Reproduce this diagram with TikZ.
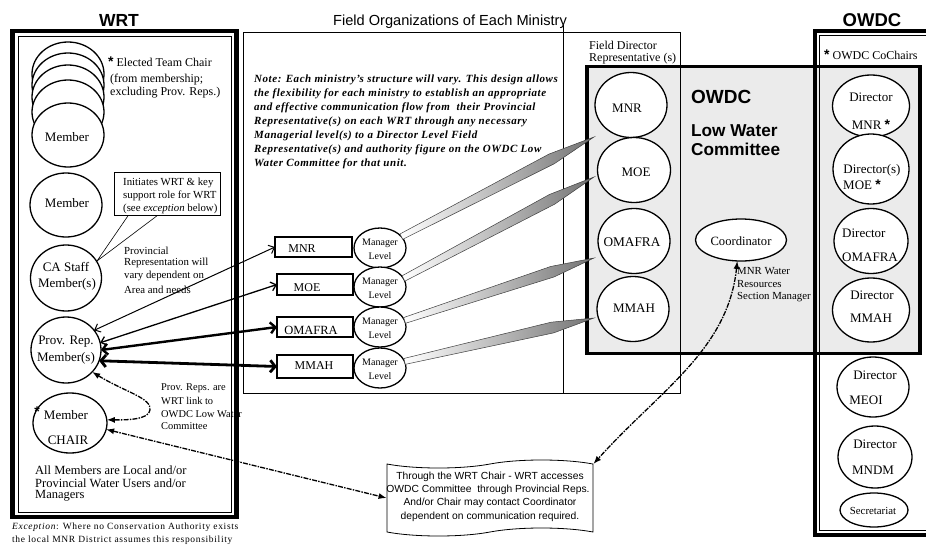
\documentclass[tikz,border=0pt]{standalone}
\usepackage{fontspec}
\setmainfont{Liberation Serif}
\setsansfont{Liberation Sans}
\usetikzlibrary{shapes.geometric,shapes.symbols,arrows.meta,calc}
\newcommand{\fz}[1]{\fontsize{#1}{#1}\selectfont}
\newcommand{\mystar}{{\sffamily\bfseries\fontsize{14}{14}\selectfont *}}
\newcommand{\wedgeto}[2]{%
  \coordinate (wm) at ($(#1)!0.78!(#2)$);
  \path[wedgefill] ($(#1)!3pt!90:(#2)$) -- ($(wm)!5.5pt!90:(#2)$) -- (#2)
     -- ($(wm)!5.5pt!-90:(#2)$) -- ($(#1)!3pt!-90:(#2)$) -- cycle;}
\begin{document}
\begin{tikzpicture}[x=1pt,y=-1pt,
  blob/.style={draw,ellipse,line width=1.3pt,fill=white,inner sep=0pt,outer sep=0pt},
  mbox/.style={draw,rectangle,line width=1.4pt,fill=white,inner sep=0pt,outer sep=0pt},
  tx/.style={inner sep=0pt,anchor=west},
  tc/.style={inner sep=0pt},
  wedgefill/.style={draw=black!75,line width=0.5pt,left color=white,right color=black!55},
  dsh/.style={line width=1.3pt,dash pattern=on 5pt off 1.2pt on 1.5pt off 1.2pt},
  dhead/.style={{Latex[length=8pt,width=6pt]}-{Latex[length=8pt,width=6pt]}}
]
\useasboundingbox (0,0) rectangle (926,546);
\clip (0,0) rectangle (926,546);
\fill[white] (0,0) rectangle (926,546);

% ---------- frames ----------
\draw[line width=3.5pt,fill=black!8] (587,66.5) rectangle (920,353.5);
\draw[line width=0.7pt] (243,32) rectangle (680,393);
\draw[line width=0.6pt] (563,25) -- (563,393);
\draw[line width=4pt] (815,31) rectangle (950,535);
\draw[line width=0.8pt] (819.5,35.5) rectangle (950,530.5);
\draw[line width=4.5pt] (12.5,31) rectangle (236.5,517);
\draw[line width=0.8pt] (18,36) rectangle (231,512);

% ---------- titles ----------
\node[tc,font=\sffamily\bfseries\fz{17.5}] (wrtT) at (119,20) {WRT};
\node[tc,font=\sffamily\fz{14.6}] (fieldT) at (450,22) {Field Organizations of Each Ministry};
\node[tc,font=\sffamily\bfseries\fz{18.5}] (owdcT) at (872,20) {OWDC};

% ---------- WRT members ----------
\node[blob,minimum width=72pt,minimum height=64pt] (s1) at (68,74) {};
\node[blob,minimum width=72pt,minimum height=64pt] (s2) at (68,85) {};
\node[blob,minimum width=72pt,minimum height=64pt] (s3) at (68,97) {};
\node[blob,minimum width=72pt,minimum height=64pt] (s4) at (68,112) {};
\node[blob,minimum width=72pt,minimum height=64pt] (mem1) at (68,135) {};
\node[tc,font=\fz{13}] (mem1t) at (67,137) {Member};
\node[blob,minimum width=72pt,minimum height=64pt] (mem2) at (66,205) {};
\node[tc,font=\fz{13}] (mem2t) at (67,203) {Member};
\node[blob,minimum width=71pt,minimum height=66pt] (ca) at (66,278) {};
\node[tc,font=\fz{13}] (cat1) at (66,267) {CA Staff};
\node[tc,font=\fz{13}] (cat2) at (67,284) {Member(s)};
\node[blob,minimum width=70pt,minimum height=66pt] (prov) at (66,350) {};
\node[tc,font=\fz{13}] (provt1) at (66,342) {Prov. Rep.};
\node[tc,font=\fz{13}] (provt2) at (66,358) {Member(s)};
\node[blob,minimum width=74pt,minimum height=60pt] (chair) at (70,423) {};
\node[tc] (chairs) at (37,412) {\mystar};
\node[tc,font=\fz{13}] (chairt1) at (66,415) {Member};
\node[tc,font=\fz{13}] (chairt2) at (68,440) {CHAIR};

\node[tx,font=\fz{12}] (el1) at (108,62) {\mystar{} Elected Team Chair};
\node[tx,font=\fz{12}] (el2) at (110,80) {(from membership;};
\node[tx,font=\fz{12}] (el3) at (110,93) {excluding Prov. Reps.)};

\node[draw,line width=0.8pt,minimum width=106pt,minimum height=43pt,inner sep=0pt,anchor=north west,fill=white] (callout) at (114,172) {};
\coordinate (cptip) at (97,261);
\draw[line width=0.6pt] ($(callout.south west)+(14,0)$) -- (cptip) -- ($(callout.south west)+(43,0)$);
\node[tx,font=\fz{10.8}] (co1) at (123,183) {Initiates WRT \& key};
\node[tx,font=\fz{10.8}] (co2) at (123,196) {support role for WRT};
\node[tx,font=\fz{10.8}] (co3) at (123,209) {(see \textit{exception} below)};

\node[tx,font=\fz{10.8}] (pr1) at (124,251) {Provincial};
\node[tx,font=\fz{10.8}] (pr2) at (124,263) {Representation will};
\node[tx,font=\fz{10.8}] (pr3) at (124,276) {vary dependent on};
\node[tx,font=\fz{10.8}] (pr4) at (124,290) {Area and needs};

\node[tx,font=\fz{10.4}] (pl1) at (161,388) {Prov. Reps. are};
\node[tx,font=\fz{10.4}] (pl2) at (161,401) {WRT link to};
\node[tx,font=\fz{10.4}] (pl3) at (161,414) {OWDC Low Water};
\node[tx,font=\fz{10.4}] (pl4) at (161,426) {Committee};

\node[tx,font=\fz{12.5}] (am1) at (35,470) {All Members are Local and/or};
\node[tx,font=\fz{12.5}] (am2) at (35,483) {Provincial Water Users and/or};
\node[tx,font=\fz{12.5}] (am3) at (35,496) {Managers};

\node[tx,font=\fz{9.5}\addfontfeatures{LetterSpace=7}] (ex1) at (12,527) {\textit{Exception}: Where no Conservation Authority exists};
\node[tx,font=\fz{9.5}\addfontfeatures{LetterSpace=7}] (ex2) at (12,540) {the local MNR District assumes this responsibility};

% ---------- note ----------
\begin{scope}[every node/.style={tx,font=\bfseries\itshape\fz{11}\addfontfeatures{LetterSpace=5}}]
\node (n1) at (254,80) {Note: Each ministry’s structure will vary. This design allows};
\node (n2) at (254,94) {the flexibility for each ministry to establish an appropriate};
\node (n3) at (254,108) {and effective communication flow from\ \ their Provincial};
\node (n4) at (254,122) {Representative(s) on each WRT through any necessary};
\node (n5) at (254,136) {Managerial level(s) to a Director Level Field};
\node (n6) at (254,150) {Representative(s) and authority figure on the OWDC Low};
\node (n7) at (254,164) {Water Committee for that unit.};
\end{scope}

% ---------- ministry boxes ----------
\node[mbox,minimum width=77pt,minimum height=20pt] (mnrb) at (313.5,247) {};
\node[tc,font=\fz{12}] (mnrbt) at (302,249) {MNR};
\node[mbox,minimum width=76pt,minimum height=21pt] (moeb) at (315,284.5) {};
\node[tc,font=\fz{12}] (moebt) at (307,288) {MOE};
\node[mbox,minimum width=76pt,minimum height=20pt] (omb) at (315,327) {};
\node[tc,font=\fz{12.5}] (ombt) at (311,330) {OMAFRA};
\node[mbox,minimum width=76pt,minimum height=23pt] (mmb) at (315,366.5) {};
\node[tc,font=\fz{12}] (mmbt) at (314,366) {MMAH};

\foreach \n/\y in {mg1/248,mg2/287,mg3/327,mg4/368}{
  \node[blob,minimum width=52pt,minimum height=40pt] (\n) at (380,\y) {};
  \node[tc,font=\fz{10}] (\n a) at (380,\y-5) {Manager};
  \node[tc,font=\fz{10}] (\n b) at (380,\y+8) {Level};
}

% ---------- field director circles ----------
\node[blob,minimum width=72pt,minimum height=65pt] (fd1) at (631,105) {};
\node[tc,font=\fz{13}] (fd1t) at (627,108) {MNR};
\node[blob,minimum width=73pt,minimum height=65pt] (fd2) at (634,170) {};
\node[tc,font=\fz{13}] (fd2t) at (636,172) {MOE};
\node[blob,minimum width=72pt,minimum height=65pt] (fd3) at (634,241) {};
\node[tc,font=\fz{13.3}] (fd3t) at (632,242) {OMAFRA};
\node[blob,minimum width=72pt,minimum height=65pt] (fd4) at (633,309) {};
\node[tc,font=\fz{13}] (fd4t) at (634,308) {MMAH};

\node[tc,font=\sffamily\bfseries\fz{19}, anchor=west] (lw1) at (691,97) {OWDC};
\node[tc,font=\sffamily\bfseries\fz{17.2}, anchor=west] (lw2) at (691,131) {Low Water};
\node[tc,font=\sffamily\bfseries\fz{17.2}, anchor=west] (lw3) at (691,149) {Committee};

\node[tx,font=\fz{12}] (fdl1) at (589,45) {Field Director};
\node[tx,font=\fz{12}] (fdl2) at (589,59) {Representative (s)};

\node[blob,minimum width=91pt,minimum height=42pt] (coord) at (741,240) {};
\node[tc,font=\fz{12.6}] (coordt) at (741,241) {Coordinator};
\node[tx,font=\fz{10.8}] (mw1) at (737,271) {MNR Water};
\node[tx,font=\fz{10.8}] (mw2) at (737,284) {Resources};
\node[tx,font=\fz{10.8}] (mw3) at (737,297) {Section Manager};

% ---------- OWDC directors ----------
\node[tx,font=\fz{12}] (cochairs) at (824,55) {\mystar{} OWDC CoChairs};
\node[blob,minimum width=77pt,minimum height=62pt] (d1) at (871,106) {};
\node[tc,font=\fz{13}] (d1a) at (871,97) {Director};
\node[tc,font=\fz{13}] (d1b) at (871,125) {MNR \mystar};
\node[blob,minimum width=76pt,minimum height=70pt] (d2) at (871,169) {};
\node[tc,font=\fz{13}] (d2a) at (872,170) {Director(s)};
\node[tc,font=\fz{13}, anchor=west] (d2b) at (843,185) {MOE \mystar};
\node[blob,minimum width=74pt,minimum height=65pt] (d3) at (871,241) {};
\node[tc,font=\fz{13},anchor=west] (d3a) at (842,233) {Director};
\node[tc,font=\fz{13},anchor=west] (d3b) at (842,257) {OMAFRA};
\node[blob,minimum width=77pt,minimum height=64pt] (d4) at (871,310) {};
\node[tc,font=\fz{13}] (d4a) at (872,295) {Director};
\node[tc,font=\fz{13}] (d4b) at (871,318) {MMAH};
\node[blob,minimum width=72pt,minimum height=60pt] (d5) at (873,387) {};
\node[tc,font=\fz{13}] (d5a) at (875,375) {Director};
\node[tc,font=\fz{13}] (d5b) at (866,400) {MEOI};
\node[blob,minimum width=74pt,minimum height=62pt] (d6) at (875,457) {};
\node[tc,font=\fz{13}] (d6a) at (875,444) {Director};
\node[tc,font=\fz{13}] (d6b) at (873,470) {MNDM};
\node[blob,minimum width=68pt,minimum height=34pt] (sec) at (874,510) {};
\node[tc,font=\fz{10.8}] (sect) at (873,511) {Secretariat};

% ---------- wave box ----------
\node[tape,draw,line width=0.8pt,fill=white,minimum width=206pt,minimum height=76pt,tape bend height=8pt,inner sep=0pt] (wave) at (490,498) {};
\node[tc,font=\sffamily\fz{10.3}] (w1) at (490,477) {Through the WRT Chair - WRT accesses};
\node[tc,font=\sffamily\fz{10.3}] (w2) at (488,490) {OWDC Committee\ \ through\ Provincial Reps.};
\node[tc,font=\sffamily\fz{10.3}] (w3) at (490,503) {And/or Chair may contact Coordinator};
\node[tc,font=\sffamily\fz{10.3}] (w4) at (490,517) {dependent on communication required.};

% ---------- wedges ----------
\coordinate (tp1) at (594,137);
\coordinate (tp2) at (594,177);
\coordinate (tp3) at (594,258);
\coordinate (tp4) at (594,318);
\wedgeto{mg1.28}{tp1}
\wedgeto{mg2.20}{tp2}
\wedgeto{mg3.15}{tp3}
\wedgeto{mg4.15}{tp4}

% ---------- arrows Prov. Rep. <-> ministries ----------
\draw[line width=1pt,{Straight Barb[length=5pt,width=9pt]}-{Straight Barb[length=5pt,width=9pt]}] (prov.35) -- (mnrb.west);
\draw[line width=1.3pt,{Straight Barb[length=5pt,width=9pt]}-{Straight Barb[length=5pt,width=9pt]}] (prov.12) -- (moeb.west);
\draw[line width=2.4pt,{Straight Barb[length=5pt,width=11pt]}-{Straight Barb[length=5pt,width=11pt]}] (prov.0) -- (omb.west);
\draw[line width=2.8pt,{Straight Barb[length=5pt,width=12pt]}-{Straight Barb[length=5pt,width=12pt]}] (prov.-18) -- (mmb.west);

% ---------- dashed links ----------
\draw[dsh,dhead] (prov.-40) .. controls (125,392) and (152,398) .. (150,410) .. controls (149,420) and (125,420) .. (chair.5);
\draw[dsh,dhead] (chair.-10) -- (wave.west);
\draw[dsh,dhead] (coord.-100) .. controls (728,350) and (660,390) .. (wave.north east);
\end{tikzpicture}
\end{document}
